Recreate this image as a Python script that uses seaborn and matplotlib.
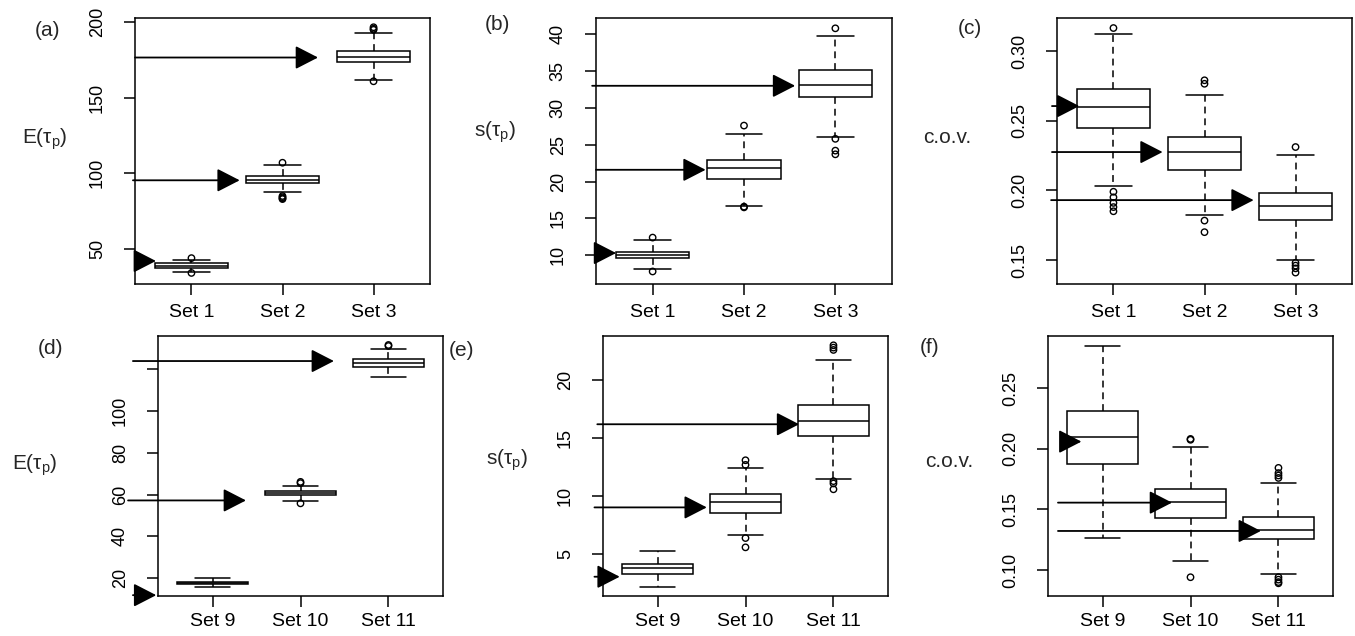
import numpy as np
import pandas as pd
import matplotlib
matplotlib.use("Agg")
import matplotlib.pyplot as plt
import seaborn as sns

# categories
sets_top = ["Set 1", "Set 2", "Set 3"]
sets_bot = ["Set 9", "Set 10", "Set 11"]

# box summaries: lower whisker, q1, median, q3, upper whisker
mean_top_box = [[34.6, 37.4, 39.0, 40.7, 42.7],
                [87.4, 93.4, 95.5, 98.0, 105.3],
                [161.8, 173.5, 176.9, 180.8, 192.7]]
mean_top_out = [[44.0, 34.2], [107.0, 85.0, 84.2, 83.5, 83.0], [196.5, 195.5, 194.8, 160.8]]
mean_top_arrow = [42.1, 95.4, 176.5]

sd_top_box = [[8.1, 9.6, 10.0, 10.5, 12.1],
              [16.7, 20.4, 21.9, 22.9, 26.4],
              [26.1, 31.5, 33.1, 35.2, 39.7]]
sd_top_out = [[12.4, 7.8], [27.6, 16.6, 16.5], [40.8, 25.8, 24.2, 23.7]]
sd_top_arrow = [10.3, 21.6, 33.0]

cov_top_box = [[0.2032, 0.2448, 0.2598, 0.2727, 0.312],
               [0.1823, 0.2146, 0.2275, 0.2383, 0.2687],
               [0.150, 0.1788, 0.1888, 0.1981, 0.2254]]
cov_top_out = [[0.3165, 0.199, 0.195, 0.191, 0.188, 0.185],
               [0.279, 0.2765, 0.1783, 0.170],
               [0.2311, 0.148, 0.146, 0.144, 0.141]]
cov_top_arrow = [0.2605, 0.2275, 0.193]

mean_bot_box = [[15.9, 17.1, 17.6, 18.2, 19.9],
                [57.0, 59.6, 60.7, 61.8, 64.2],
                [116.5, 121.0, 122.9, 124.9, 129.6]]
mean_bot_out = [[], [66.1, 65.5, 55.8], [131.7, 131.2]]
mean_bot_arrow = [11.8, 57.2, 124.0]

sd_bot_box = [[2.2, 3.3, 3.8, 4.17, 5.3],
              [6.66, 8.6, 9.5, 10.17, 12.4],
              [11.45, 15.2, 16.5, 17.9, 21.7]]
sd_bot_out = [[], [13.1, 12.7, 6.4, 5.6], [23.0, 22.8, 22.6, 11.3, 11.1, 10.6]]
sd_bot_arrow = [3.07, 9.04, 16.2]

cov_bot_box = [[0.1262, 0.1873, 0.2096, 0.2315, 0.2849],
               [0.1077, 0.1428, 0.156, 0.1667, 0.2013],
               [0.0967, 0.1257, 0.1333, 0.1436, 0.1721]]
cov_bot_out = [[], [0.2082, 0.2075, 0.094],
               [0.1843, 0.180, 0.178, 0.176, 0.094, 0.092, 0.090, 0.089]]
cov_bot_arrow = [0.206, 0.1556, 0.1322]

# axis ticks / labels
mean_top_ticks = [50, 100, 150, 200]
sd_top_ticks = [10, 15, 20, 25, 30, 35, 40]
cov_top_ticks = [0.15, 0.20, 0.25, 0.30]
mean_bot_ticks = [20, 40, 60, 80, 100, 120]
mean_bot_labels = ["20", "40", "60", "80", "100", ""]
sd_bot_ticks = [5, 10, 15, 20]
cov_bot_ticks = [0.10, 0.15, 0.20, 0.25]

W, H = 1355, 636

sns.set_style("ticks")
plt.rcParams["font.family"] = ["Liberation Sans", "DejaVu Sans"]
plt.rcParams["mathtext.fontset"] = "custom"
plt.rcParams["mathtext.rm"] = "Liberation Sans"
plt.rcParams["mathtext.default"] = "regular"

fig = plt.figure(figsize=(W / 100, H / 100), dpi=100)


def px(x, y):
    return x / W, 1 - y / H


def to_frame(sets, groups):
    rows = [(s, v) for s, vals in zip(sets, groups) for v in vals]
    return pd.DataFrame(rows, columns=["set", "value"])


def panel(rect, sets, box, out, arrows, ticks, labels, ylim, tips, starts, xpad):
    l, t, r, b = rect
    ax = fig.add_axes([l / W, 1 - b / H, (r - l) / W, (b - t) / H])
    sns.boxplot(data=to_frame(sets, box), x="set", y="value", order=sets,
                whis=(0, 100), width=0.8, color="white", saturation=1,
                linecolor="black", linewidth=1.1, showfliers=False,
                whiskerprops=dict(linestyle=(0, (4.5, 3.2))), ax=ax)
    sns.stripplot(data=to_frame(sets, out), x="set", y="value", order=sets,
                  jitter=False, size=4.6, facecolor="none", edgecolor="black",
                  linewidth=1, ax=ax)
    for i, yv in enumerate(arrows):
        ax.annotate("", xy=(i + tips[i], yv), xycoords="data",
                    xytext=(starts[i], yv), textcoords=("axes fraction", "data"),
                    arrowprops=dict(arrowstyle="-|>,head_length=0.7,head_width=0.36",
                                    mutation_scale=20, color="black", lw=1.3,
                                    shrinkA=0, shrinkB=0),
                    annotation_clip=False)
    ax.set_xlim(-0.62, 2.62)
    ax.set_ylim(*ylim)
    ax.set_yticks(ticks, labels)
    ax.set(xlabel="", ylabel="")
    for sp in ax.spines.values():
        sp.set_visible(True)
        sp.set_color("black")
        sp.set_linewidth(1.1)
    ax.tick_params(axis="both", direction="out", length=8, width=1.1, colors="black")
    ax.tick_params(axis="y", labelrotation=90, labelsize=13, pad=13)
    ax.tick_params(axis="x", labelsize=14, pad=xpad)
    for lab in ax.get_yticklabels():
        lab.set_va("center")
    return ax


panel((135, 18, 430, 284), sets_top, mean_top_box, mean_top_out, mean_top_arrow,
      mean_top_ticks, [str(v) for v in mean_top_ticks], (26.9, 202.6),
      [-0.39, -0.47, -0.61], [0.005, -0.007, 0.0], 6.5)
panel((596, 18, 892, 284), sets_top, sd_top_box, sd_top_out, sd_top_arrow,
      sd_top_ticks, [str(v) for v in sd_top_ticks], (6.1, 42.2),
      [-0.40, -0.42, -0.44], [0.0, 0.0, -0.013], 6.5)
panel((1057, 18, 1352, 284), sets_top, cov_top_box, cov_top_out, cov_top_arrow,
      cov_top_ticks, ["%.2f" % v for v in cov_top_ticks], (0.1328, 0.3237),
      [-0.375, -0.46, -0.46], [-0.017, -0.017, -0.02], 6.5)
panel((158, 336, 443, 596), sets_bot, mean_bot_box, mean_bot_out, mean_bot_arrow,
      mean_bot_ticks, mean_bot_labels, (11.4, 136.0),
      [-0.64, -0.62, -0.62], [-0.088, -0.105, -0.088], 4.5)
panel((603, 336, 888, 596), sets_bot, sd_bot_box, sd_bot_out, sd_bot_arrow,
      sd_bot_ticks, [str(v) for v in sd_bot_ticks], (1.41, 23.8),
      [-0.43, -0.44, -0.39], [-0.03, -0.03, -0.02], 4.5)
panel((1048, 336, 1333, 596), sets_bot, cov_bot_box, cov_bot_out, cov_bot_arrow,
      cov_bot_ticks, ["%.2f" % v for v in cov_bot_ticks], (0.0785, 0.2932),
      [-0.24, -0.21, -0.20], [0.05, 0.035, 0.035], 4.5)

# panel letters
for s, x, y in [("(a)", 47, 31), ("(b)", 497, 24), ("(c)", 970, 29),
                ("(d)", 51, 348), ("(e)", 462, 351), ("(f)", 930, 347)]:
    fig.text(*px(x, y), s, ha="center", va="center", fontsize=15)

# y-axis titles
for s, x, y in [(r"E(τ$_{p}$)", 45, 144), (r"s(τ$_{p}$)", 495, 137), ("c.o.v.", 947, 143),
                (r"E(τ$_{p}$)", 35, 470), (r"s(τ$_{p}$)", 507, 465), ("c.o.v.", 949, 467)]:
    fig.text(*px(x, y), s, ha="center", va="baseline", fontsize=15)

fig.savefig("out.png", dpi=100)
